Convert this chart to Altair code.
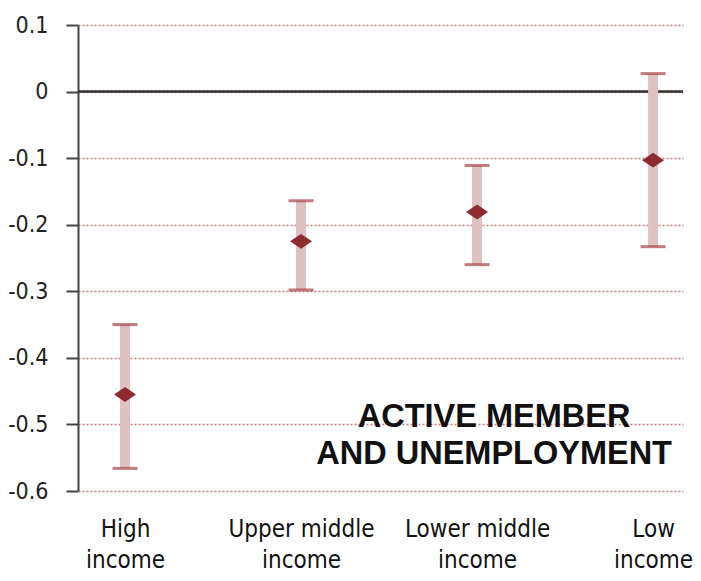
import altair as alt
import pandas as pd

categories = ["High income", "Upper middle income", "Lower middle income", "Low income"]
positions = [0, 1, 2, 3]
estimates = [-0.455, -0.225, -0.181, -0.103]
upper = [-0.350, -0.164, -0.111, 0.027]
lower = [-0.566, -0.298, -0.260, -0.233]
y_ticks = [0.1, 0.0, -0.1, -0.2, -0.3, -0.4, -0.5, -0.6]
annotation = "ACTIVE MEMBER\nAND UNEMPLOYMENT"

df = pd.DataFrame({"cat": categories, "pos": positions, "est": estimates,
                   "hi": upper, "lo": lower})

label_expr = " : ".join(
    [f"datum.value == {p} ? ['{c.replace(' income', '')}', 'income']" for p, c in zip(positions, categories)]
) + " : ''"

xscale = alt.Scale(domain=[-0.267, 3.17], nice=False, zero=False)
yscale = alt.Scale(domain=[-0.6, 0.1], nice=False, zero=False)

NARROW = "DejaVu Sans Condensed, Liberation Sans Narrow, sans-serif"

xaxis = alt.Axis(values=positions, labelExpr=label_expr, title=None, domain=False,
                 ticks=False, grid=False, labelFont=NARROW, labelFontSize=24,
                 labelColor="#111", labelPadding=26, labelLineHeight=31,
                 labelBaseline="top", labelFlush=False, labelOverlap=False)
yaxis = alt.Axis(values=y_ticks, title=None, domainColor="#444", domainWidth=2,
                 tickColor="#444", tickWidth=2, tickSize=12, labelFont=NARROW,
                 labelFontSize=23, labelColor="#222", labelPadding=18,
                 labelExpr="(datum.value < -0.001 ? '-' : '') + (abs(datum.value) < 0.001 ? '0' : format(abs(datum.value), '.1f'))",
                 grid=True, gridColor="#c97a7e", gridDash=[2, 2], gridWidth=1.5)

base = alt.Chart(df)

bars = base.mark_rule(color="#e0c1c1", strokeWidth=10).encode(
    x=alt.X("pos:Q", scale=xscale, axis=xaxis),
    y=alt.Y("lo:Q", scale=yscale, axis=yaxis),
    y2="hi:Q",
)
cap_hi = base.mark_tick(color="#a8434a", orient="horizontal", size=25, thickness=3).encode(
    x=alt.X("pos:Q", scale=xscale), y=alt.Y("hi:Q", scale=yscale))
cap_lo = base.mark_tick(color="#a8434a", orient="horizontal", size=25, thickness=3).encode(
    x=alt.X("pos:Q", scale=xscale), y=alt.Y("lo:Q", scale=yscale))
points = base.mark_point(shape="M-1,0L0,-0.68L1,0L0,0.68Z", filled=True, opacity=1,
                         color="#8e2b30", size=484).encode(
    x=alt.X("pos:Q", scale=xscale), y=alt.Y("est:Q", scale=yscale))

zero = alt.Chart(pd.DataFrame({"y": [0.0]})).mark_rule(color="#333", strokeWidth=2.5).encode(
    y=alt.Y("y:Q", scale=yscale))

note = alt.Chart(pd.DataFrame({"x": [2.097], "y": [-0.504], "t": [annotation]})).mark_text(
    font="Liberation Sans, Arial, sans-serif", fontWeight="bold", fontSize=32.5,
    color="#111", align="center", baseline="alphabetic", lineBreak="\n", lineHeight=37
).encode(x=alt.X("x:Q", scale=xscale), y=alt.Y("y:Q", scale=yscale), text="t:N")

chart = alt.layer(zero, bars, cap_hi, cap_lo, points, note).properties(
    width=605, height=466,
    autosize=alt.AutoSizeParams(type="none"),
    padding={"left": 70, "top": 17, "right": 10, "bottom": 84},
    background="white",
).configure_view(stroke=None)

chart.save("out.html", embed_options={"renderer": "svg", "actions": False})
